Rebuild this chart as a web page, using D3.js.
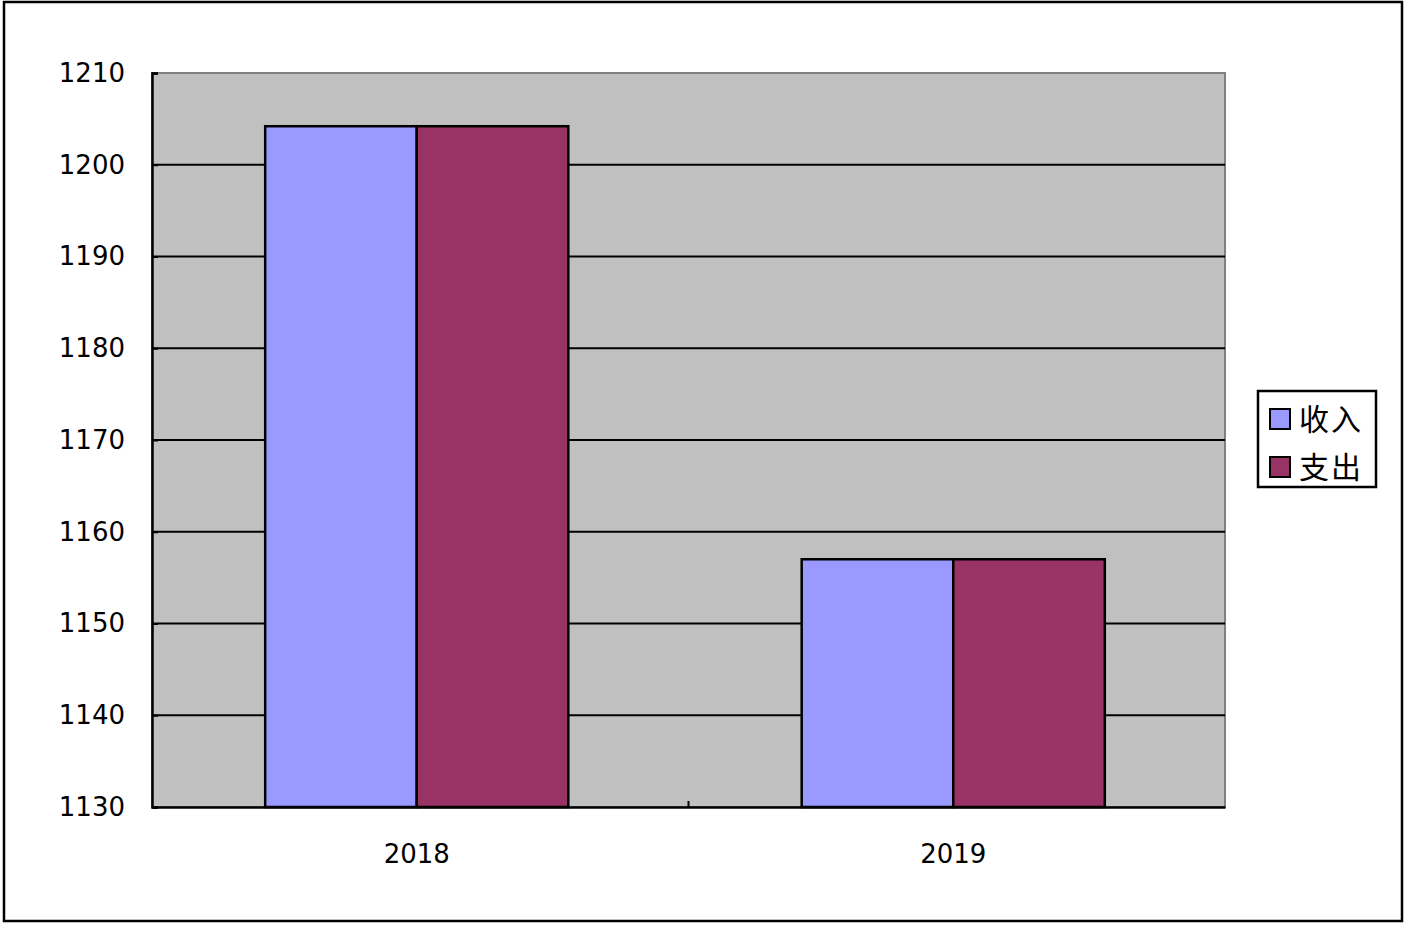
<!DOCTYPE html>
<html lang="zh">
<head>
<meta charset="UTF-8">
<title>收入支出</title>
<script src="https://d3js.org/d3.v7.min.js"></script>
<style>
  body { margin: 0; background: #fff; }
  svg { display: block; }
  .tick-label { font-family: 'DejaVu Sans', sans-serif; font-size: 26px; fill: #000; }
  .legend text { font-family: 'Noto Sans CJK SC', sans-serif; font-size: 30px; letter-spacing: 2px; fill: #000; }
</style>
</head>
<body>
<div id="chart"></div>
<script>
// data
const years = ['2018', '2019'];
const seriesNames = ['收入', '支出'];
const income = [1204.2, 1157.0];
const expense = [1204.2, 1157.0];
const yTicks = [1130, 1140, 1150, 1160, 1170, 1180, 1190, 1200, 1210];
const colors = ['#9999ff', '#993366'];

const width = 1407, height = 927;
const plot = { left: 152, right: 1225, top: 73, bottom: 807 };

const svg = d3.select('#chart').append('svg')
  .attr('width', width)
  .attr('height', height);

// outer frame
svg.append('rect')
  .attr('x', 4).attr('y', 2)
  .attr('width', 1398).attr('height', 919)
  .attr('fill', '#fff')
  .attr('stroke', '#000')
  .attr('stroke-width', 2.5);

const x0 = d3.scaleBand()
  .domain(years)
  .range([plot.left, plot.right])
  .paddingInner(0.435)
  .paddingOuter(0.2175)
  .align(0.485);

const x1 = d3.scaleBand()
  .domain(seriesNames)
  .range([0, x0.bandwidth()]);

const y = d3.scaleLinear()
  .domain([1130, 1210])
  .range([plot.bottom, plot.top]);

// plot area
svg.append('rect')
  .attr('x', plot.left).attr('y', plot.top)
  .attr('width', plot.right - plot.left)
  .attr('height', plot.bottom - plot.top)
  .attr('fill', '#c0c0c0')
  .attr('stroke', '#808080')
  .attr('stroke-width', 2);

// gridlines
svg.append('g')
  .selectAll('line')
  .data(yTicks.filter(t => t > 1130 && t < 1210))
  .join('line')
  .attr('x1', plot.left).attr('x2', plot.right)
  .attr('y1', d => y(d)).attr('y2', d => y(d))
  .attr('stroke', '#000')
  .attr('stroke-width', 2);

// bars
const table = years.map((yr, i) => ({ year: yr, values: [income[i], expense[i]] }));

const groups = svg.append('g')
  .selectAll('g')
  .data(table)
  .join('g')
  .attr('transform', d => `translate(${x0(d.year)},0)`);

groups.selectAll('rect')
  .data(d => d.values.map((v, j) => ({ name: seriesNames[j], value: v, j: j })))
  .join('rect')
  .attr('x', d => x1(d.name))
  .attr('y', d => y(d.value))
  .attr('width', x1.bandwidth())
  .attr('height', d => y(1130) - y(d.value))
  .attr('fill', d => colors[d.j])
  .attr('stroke', '#000')
  .attr('stroke-width', 2.5);

// y axis
const yAxis = d3.axisLeft(y)
  .tickValues(yTicks)
  .tickSize(-6)
  .tickPadding(27)
  .tickFormat(d3.format('d'));

const gy = svg.append('g')
  .attr('transform', `translate(${plot.left},0)`)
  .call(yAxis);
gy.select('.domain').attr('stroke', '#000').attr('stroke-width', 2.5);
gy.selectAll('.tick line').attr('stroke', '#000').attr('stroke-width', 2);
gy.selectAll('.tick text').attr('class', 'tick-label').attr('font-size', null).attr('font-family', null);

// x axis
const xAxis = d3.axisBottom(x0)
  .tickSize(0)
  .tickPadding(38);

const gx = svg.append('g')
  .attr('transform', `translate(0,${plot.bottom})`)
  .call(xAxis);
gx.select('.domain').attr('stroke', '#000').attr('stroke-width', 2.5);
gx.selectAll('.tick text').attr('class', 'tick-label').attr('font-size', null).attr('font-family', null);

// category separator tick between groups
svg.append('line')
  .attr('x1', (plot.left + plot.right) / 2)
  .attr('x2', (plot.left + plot.right) / 2)
  .attr('y1', plot.bottom).attr('y2', plot.bottom - 6)
  .attr('stroke', '#000')
  .attr('stroke-width', 2);

// legend
const legend = svg.append('g')
  .attr('class', 'legend')
  .attr('transform', 'translate(1258,391)');

legend.append('rect')
  .attr('width', 118).attr('height', 96)
  .attr('fill', '#fff')
  .attr('stroke', '#000')
  .attr('stroke-width', 2.5);

const items = legend.selectAll('.item')
  .data(seriesNames)
  .join('g')
  .attr('class', 'item')
  .attr('transform', (d, i) => `translate(12,${18 + i * 48})`);

items.append('rect')
  .attr('width', 20).attr('height', 20)
  .attr('fill', (d, i) => colors[i])
  .attr('stroke', '#000')
  .attr('stroke-width', 2);

items.append('text')
  .attr('x', 29)
  .attr('y', 10)
  .attr('dy', '0.36em')
  .text(d => d);
</script>
</body>
</html>
